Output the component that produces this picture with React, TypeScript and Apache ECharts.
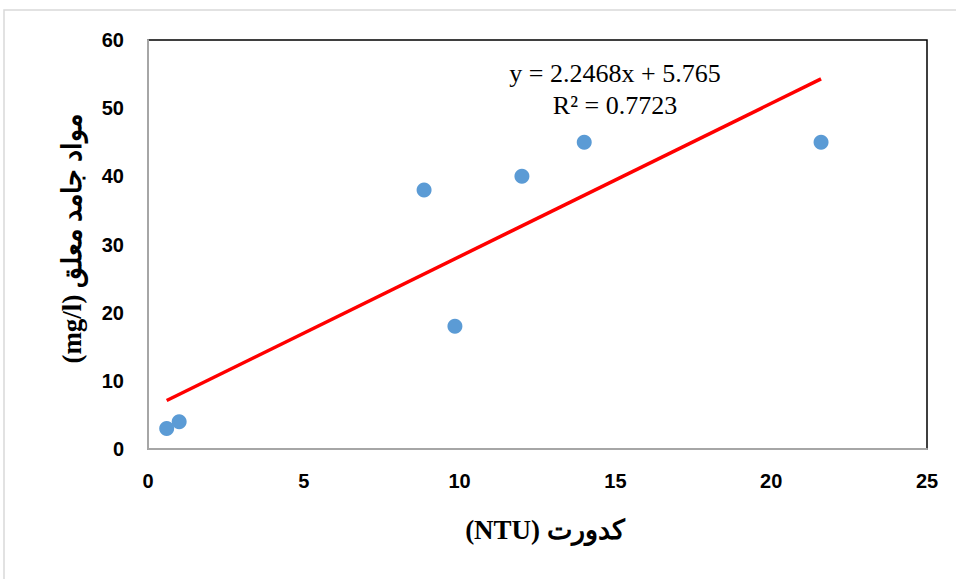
import React, { useEffect, useRef } from "react";
import * as echarts from "echarts";

// Turbidity (NTU) against suspended solids (mg/l)
const turbidity = [0.6, 1, 8.86, 9.85, 12, 14, 21.6];
const suspendedSolids = [3, 4, 38, 18, 40, 45, 45];

// Linear trendline constants
const slope = 2.2468;
const intercept = 5.765;
const rSquared = 0.7723;

const xTicks = { min: 0, max: 25, interval: 5 };
const yTicks = { min: 0, max: 60, interval: 10 };

const xTitle = "(NTU) کدورت";
const yTitle = "(mg/l) مواد جامد معلق";

export default function App() {
  const ref = useRef<HTMLDivElement>(null);

  useEffect(() => {
    if (!ref.current) return;
    const chart = echarts.init(ref.current, null, { renderer: "svg" });
    const xs = [Math.min(...turbidity), Math.max(...turbidity)];
    const trend = xs.map((x) => [x, slope * x + intercept]);
    const points = turbidity.map((x, i) => [x, suspendedSolids[i]]);
    const tickFont = {
      fontFamily: "Liberation Sans, Arial, sans-serif",
      fontWeight: "bold" as const,
      fontSize: 20,
      color: "#000",
    };
    const serif = "Times New Roman, Liberation Serif, DejaVu Serif, serif";

    chart.setOption({
      animation: false,
      backgroundColor: "#fff",
      grid: {
        left: 148,
        top: 40,
        width: 779,
        height: 409,
        show: true,
        borderColor: "#000",
        borderWidth: 1.5,
        backgroundColor: "#fff",
      },
      xAxis: {
        type: "value",
        ...xTicks,
        axisLine: { show: true, onZero: false, lineStyle: { color: "#A6A6A6", width: 2 } },
        axisTick: { show: false },
        splitLine: { show: false },
        axisLabel: { ...tickFont, margin: 22 },
      },
      yAxis: {
        type: "value",
        ...yTicks,
        axisLine: { show: true, onZero: false, lineStyle: { color: "#A6A6A6", width: 2 } },
        axisTick: { show: false },
        splitLine: { show: false },
        axisLabel: { ...tickFont, margin: 24 },
      },
      series: [
        {
          type: "line",
          data: trend,
          symbol: "none",
          lineStyle: { color: "#FF0000", width: 3.5 },
          z: 2,
        },
        {
          type: "scatter",
          data: points,
          symbolSize: 15,
          itemStyle: { color: "#5B9BD5", opacity: 1 },
          z: 3,
        },
      ],
      graphic: [
        {
          type: "rect",
          shape: { x: 4, y: 10, width: 980, height: 620 },
          style: { fill: "none", stroke: "#D9D9D9", lineWidth: 1.5 },
          silent: true,
          z: -10,
        },
        {
          type: "text",
          x: 615,
          y: 73,
          style: {
            text: `y = ${slope}x + ${intercept}`,
            font: `26px ${serif}`,
            fill: "#000",
            align: "center",
            verticalAlign: "middle",
          },
          z: 10,
        },
        {
          type: "text",
          x: 615,
          y: 105,
          style: {
            text: `R² = ${rSquared}`,
            font: `26px ${serif}`,
            fill: "#000",
            align: "center",
            verticalAlign: "middle",
          },
          z: 10,
        },
        {
          type: "text",
          x: 545,
          y: 530,
          style: {
            text: xTitle,
            font: `bold 27px ${serif}`,
            fill: "#000",
            align: "center",
            verticalAlign: "middle",
          },
        },
        {
          type: "text",
          x: 72,
          y: 239,
          rotation: Math.PI / 2,
          style: {
            text: yTitle,
            font: `bold 27px ${serif}`,
            fill: "#000",
            align: "center",
            verticalAlign: "middle",
          },
        },
      ],
    });
    return () => chart.dispose();
  }, []);

  return (
    <div
      ref={ref}
      style={{ position: "fixed", left: 0, top: 0, width: 956, height: 579, background: "#fff" }}
    />
  );
}
